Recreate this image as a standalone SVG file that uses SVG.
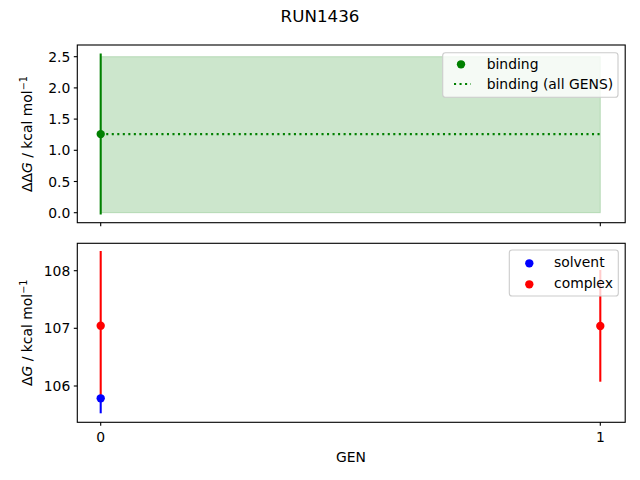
<svg xmlns="http://www.w3.org/2000/svg" width="640" height="480" viewBox="0 0 640 480">
<style>
text{font-family:"DejaVu Sans",sans-serif;fill:#000}
.t{font-size:13.9px}
.yt{text-anchor:end}
.xt{text-anchor:middle}
.sp{fill:none;stroke:#000;stroke-width:1.11}
.tk{stroke:#000;stroke-width:1.11}
.eg{stroke:#008000;stroke-width:2.08}
.er{stroke:#ff0000;stroke-width:2.08}
.eb{stroke:#0000ff;stroke-width:2.08}
.leg{fill:#fff;fill-opacity:0.8;stroke:#cccccc;stroke-width:1.11}
</style>
<rect width="640" height="480" fill="#fff"/>
<text x="320" y="22" font-size="16.7" text-anchor="middle">RUN1436</text>

<g id="top-axes">
  <rect x="100.7" y="56.7" width="499.6" height="156" fill="#008000" fill-opacity="0.2" stroke="#008000" stroke-opacity="0.2" stroke-width="1"/>
  <line x1="100.7" y1="134.1" x2="600.3" y2="134.1" stroke="#008000" stroke-width="2.08" stroke-dasharray="2.08 3.44"/>
  <line class="eg" x1="100.7" y1="53.5" x2="100.7" y2="214.5"/>
  <circle cx="100.7" cy="134.1" r="4.17" fill="#008000"/>
  <rect class="sp" x="77.3" y="45" width="547.9" height="177.7"/>
  <g id="top-yticks">
    <line class="tk" x1="73.8" y1="212.7" x2="77.3" y2="212.7"/>
    <line class="tk" x1="73.8" y1="181.5" x2="77.3" y2="181.5"/>
    <line class="tk" x1="73.8" y1="150.3" x2="77.3" y2="150.3"/>
    <line class="tk" x1="73.8" y1="119.1" x2="77.3" y2="119.1"/>
    <line class="tk" x1="73.8" y1="87.9" x2="77.3" y2="87.9"/>
    <line class="tk" x1="73.8" y1="56.7" x2="77.3" y2="56.7"/>
    <text class="t yt" x="70.3" y="217.7">0.0</text>
    <text class="t yt" x="70.3" y="186.5">0.5</text>
    <text class="t yt" x="70.3" y="155.3">1.0</text>
    <text class="t yt" x="70.3" y="124.1">1.5</text>
    <text class="t yt" x="70.3" y="92.9">2.0</text>
    <text class="t yt" x="70.3" y="61.7">2.5</text>
  </g>
  <line class="tk" x1="100.7" y1="222.7" x2="100.7" y2="226.2"/>
  <line class="tk" x1="600.3" y1="222.7" x2="600.3" y2="226.2"/>
  <text class="t" transform="translate(32.3,134) rotate(-90)" text-anchor="middle">ΔΔ<tspan font-style="italic">G</tspan> / kcal mol<tspan font-size="9.7" dy="-5.5">−1</tspan></text>
  <g id="top-legend">
    <rect class="leg" x="442.7" y="52.7" width="175.3" height="44.6" rx="2.8"/>
    <circle cx="461" cy="64.3" r="4.17" fill="#008000"/>
    <line x1="454" y1="84" x2="471" y2="84" stroke="#008000" stroke-width="2.08" stroke-dasharray="2.08 3.44"/>
    <text class="t" x="486.7" y="68.6">binding</text>
    <text class="t" x="486.7" y="88.6">binding (all GENS)</text>
  </g>
</g>

<g id="bottom-axes">
  <line class="er" x1="100.7" y1="251" x2="100.7" y2="398"/>
  <circle cx="100.7" cy="325.7" r="4.17" fill="#ff0000"/>
  <line class="eb" x1="100.7" y1="398" x2="100.7" y2="413.3"/>
  <circle cx="100.7" cy="398.3" r="4.17" fill="#0000ff"/>
  <line class="er" x1="600.3" y1="270" x2="600.3" y2="381.7"/>
  <circle cx="600.3" cy="326" r="4.17" fill="#ff0000"/>
  <rect class="sp" x="77.3" y="243.3" width="547.9" height="179"/>
  <g id="bottom-yticks">
    <line class="tk" x1="73.8" y1="386" x2="77.3" y2="386"/>
    <line class="tk" x1="73.8" y1="328.3" x2="77.3" y2="328.3"/>
    <line class="tk" x1="73.8" y1="270.7" x2="77.3" y2="270.7"/>
    <text class="t yt" x="70.3" y="391">106</text>
    <text class="t yt" x="70.3" y="333.3">107</text>
    <text class="t yt" x="70.3" y="275.7">108</text>
  </g>
  <g id="xticks">
    <line class="tk" x1="100.7" y1="422.3" x2="100.7" y2="425.8"/>
    <line class="tk" x1="600.3" y1="422.3" x2="600.3" y2="425.8"/>
    <text class="t xt" x="100.7" y="441.5">0</text>
    <text class="t xt" x="600.3" y="441.5">1</text>
  </g>
  <text class="t" x="351" y="461.7" text-anchor="middle">GEN</text>
  <text class="t" transform="translate(32.3,332.8) rotate(-90)" text-anchor="middle">Δ<tspan font-style="italic">G</tspan> / kcal mol<tspan font-size="9.7" dy="-5.5">−1</tspan></text>
  <g id="bottom-legend">
    <rect class="leg" x="509.3" y="250" width="109" height="46" rx="2.8"/>
    <circle cx="529.3" cy="263.3" r="4.17" fill="#0000ff"/>
    <circle cx="529.3" cy="284.3" r="4.17" fill="#ff0000"/>
    <text class="t" x="554" y="267">solvent</text>
    <text class="t" x="554" y="288.3">complex</text>
  </g>
</g>
</svg>
